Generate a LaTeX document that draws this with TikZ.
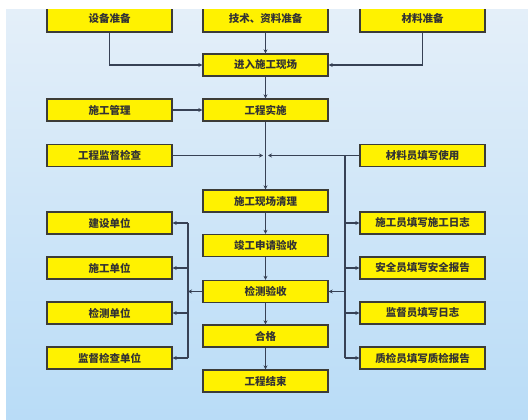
\documentclass[tikz,border=0pt]{standalone}
\usepackage{fontspec}
\newfontfamily\cjk{Noto Sans CJK SC}
\usetikzlibrary{arrows.meta}
\definecolor{bgtop}{RGB}{228,239,249}
\definecolor{bgbot}{RGB}{185,220,247}
\definecolor{boxy}{RGB}{255,242,0}
\definecolor{edge}{RGB}{60,60,55}
\definecolor{wire}{RGB}{55,65,85}
\tikzset{
  box/.style={draw=edge, line width=1.3pt, fill=boxy, minimum width=125pt, minimum height=22pt,
    inner sep=0pt, font=\cjk\bfseries\fontsize{10.5}{12}\selectfont, text=black!80},
  wireline/.style={draw=wire, line width=1.2pt},
  arr/.style={wireline, -{Stealth[length=4pt,width=4pt]}}
}
\begin{document}
\begin{tikzpicture}[x=1pt,y=-1pt]
\useasboundingbox (0,0) rectangle (528,420);
\shade[top color=bgtop, bottom color=bgbot] (6,10) rectangle (528,419);
% top row
\node[box, minimum height=28pt] (sb) at (109.5,18) {设备准备};
\node[box, minimum height=28pt] (js) at (265.5,18) {技术、资料准备};
\node[box, minimum height=28pt] (cl) at (422.5,18) {材料准备};
\fill[white] (0,0) rectangle (528,9.5);
\fill[white] (0,0) rectangle (5.5,420);
% center column
\node[box] (jr) at (265.5,65) {进入施工现场};
\node[box] (gs) at (265.5,110) {工程实施};
\node[box] (ql) at (265.5,201) {施工现场清理};
\node[box] (jg) at (265.5,245.5) {竣工申请验收};
\node[box] (jc) at (265.5,291.5) {检测验收};
\node[box] (hg) at (265.5,336) {合格};
\node[box] (js2) at (265.5,381) {工程结束};
% left column
\node[box] (sg) at (109.5,110) {施工管理};
\node[box] (jd) at (109.5,155.5) {工程监督检查};
\node[box] (jsdw) at (109.5,223) {建设单位};
\node[box] (sgdw) at (109.5,268) {施工单位};
\node[box] (jcdw) at (109.5,313) {检测单位};
\node[box] (jddw) at (109.5,358) {监督检查单位};
% right column
\node[box] (cy) at (422.5,155.5) {材料员填写使用};
\node[box] (sy) at (422.5,223) {施工员填写施工日志};
\node[box] (ay) at (422.5,268) {安全员填写安全报告};
\node[box] (jy) at (422.5,313) {监督员填写日志};
\node[box] (zy) at (422.5,358) {质检员填写质检报告};
% connectors top
\draw[arr] (sb.south) |- (jr.west);
\draw[arr] (cl.south) |- (jr.east);
\draw[arr] (js.south) -- (jr.north);
\draw[arr] (jr.south) -- (gs.north);
\draw[arr] (sg.east) -- (gs.west);
\draw[arr] (gs.south) -- (ql.north);
\coordinate (jdend) at (263,155.5);
\coordinate (cyend) at (268,155.5);
\draw[arr] (jd.east) -- (jdend);
\coordinate (rb) at (345,155.5);
\draw[wireline] (cy.west) -- (rb);
\draw[arr] (rb) -- (cyend);
\draw[arr] (ql.south) -- (jg.north);
\draw[arr] (jg.south) -- (jc.north);
\draw[arr] (jc.south) -- (hg.north);
\draw[arr] (hg.south) -- (js2.north);
% right bracket
\draw[wireline] (rb) -- (rb |- zy.west);
\draw[arr] (rb |- sy.west) -- (sy.west);
\draw[arr] (rb |- ay.west) -- (ay.west);
\draw[arr] (rb |- jy.west) -- (jy.west);
\draw[arr] (rb |- zy.west) -- (zy.west);
\draw[arr] (rb |- jc.east) -- (jc.east);
% left bracket
\coordinate (lb) at (188,291.5);
\draw[wireline] (lb |- jsdw.east) -- (lb |- jddw.east);
\draw[arr] (jc.west) -- (lb);
\draw[arr] (lb |- jsdw.east) -- (jsdw.east);
\draw[arr] (lb |- sgdw.east) -- (sgdw.east);
\draw[arr] (lb |- jcdw.east) -- (jcdw.east);
\draw[arr] (lb |- jddw.east) -- (jddw.east);
\end{tikzpicture}
\end{document}
